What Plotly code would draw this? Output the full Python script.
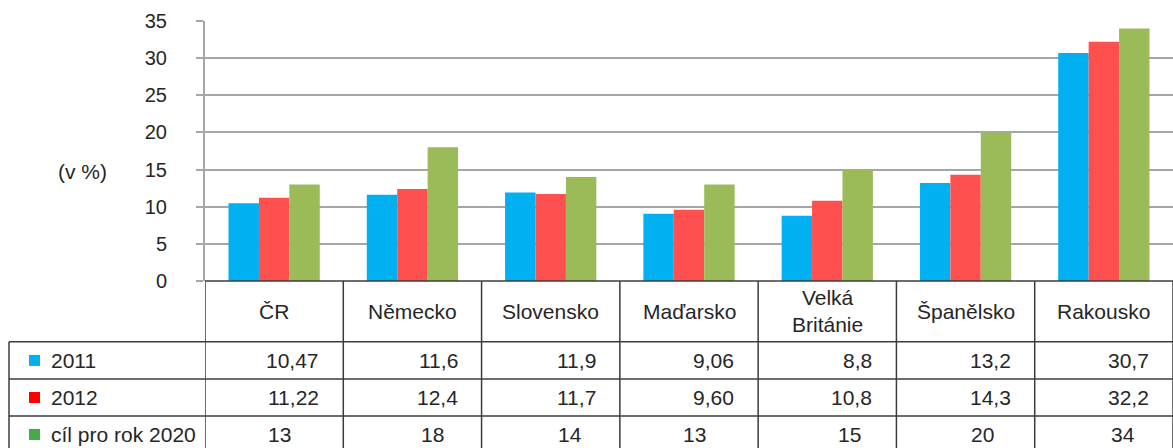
import plotly.graph_objects as go

# ---- data ----
countries = ["ČR", "Německo", "Slovensko", "Maďarsko", "Velká<br>Británie", "Španělsko", "Rakousko"]
series_names = ["2011", "2012", "cíl pro rok 2020"]
v2011 = [10.47, 11.6, 11.9, 9.06, 8.8, 13.2, 30.7]
v2012 = [11.22, 12.4, 11.7, 9.60, 10.8, 14.3, 32.2]
target2020 = [13, 18, 14, 13, 15, 20, 34]
lbl2011 = ["10,47", "11,6", "11,9", "9,06", "8,8", "13,2", "30,7"]
lbl2012 = ["11,22", "12,4", "11,7", "9,60", "10,8", "14,3", "32,2"]
lbl2020 = ["13", "18", "14", "13", "15", "20", "34"]
y_ticks = [0, 5, 10, 15, 20, 25, 30, 35]
y_title = "(v %)"

# ---- styling ----
W, H = 1173, 448
L, T, PB = 205, 21, 281          # plot left, top, bottom in px
PW, PH = W - L, PB - T
bar_colors = ["#00b0f0", "#ff5050", "#9bbb59"]
legend_colors = ["#00b0f0", "#ff0000", "#44aa4a"]
FONT = "Liberation Sans, Arial, sans-serif"
TXT = "#262626"
GRID = "#a6a6a6"
TLINE = "#3c3c3c"
FS = 21

def px(xp):
    return (xp - L) / PW

def py(yp):
    return (PB - yp) / PH

idx = list(range(len(countries)))
fig = go.Figure()
for name, vals, col in zip(series_names, [v2011, v2012, target2020], bar_colors):
    fig.add_trace(go.Bar(x=idx, y=vals, name=name, marker=dict(color=col, line=dict(width=0)),
                         showlegend=False))

# table geometry (px)
header_bottom = 341.7
row_lines = [341.7, 379, 416]
row_centers = [360.4, 397.5, 434.5]
table_left = 9
last_row_shift = [5, 20, 19, 5, 22, 17, 19]

shapes = []
shapes.append(dict(type="line", xref="paper", yref="paper", x0=0, x1=1, y0=py(PB), y1=py(PB),
                   line=dict(color=TLINE, width=1.5)))
for yl in row_lines:
    shapes.append(dict(type="line", xref="paper", yref="paper", x0=px(table_left), x1=1,
                       y0=py(yl), y1=py(yl), line=dict(color=TLINE, width=1.5)))
for i in range(len(countries) + 1):
    shapes.append(dict(type="line", xref="x", yref="paper", x0=i - 0.5, x1=i - 0.5,
                       y0=py(PB), y1=py(H + 10), line=dict(color=TLINE, width=1.5)))
shapes.append(dict(type="line", xref="paper", yref="paper", x0=px(table_left), x1=px(table_left),
                   y0=py(header_bottom), y1=py(H + 10), line=dict(color=TLINE, width=1.5)))
for c, yc in zip(legend_colors, row_centers):
    shapes.append(dict(type="rect", xref="paper", yref="paper", x0=px(29), x1=px(40),
                       y0=py(yc + 5.5), y1=py(yc - 5.5), fillcolor=c, line=dict(width=0)))

ann = []
for i, c in enumerate(countries):
    ann.append(dict(x=i, y=py((PB + header_bottom) / 2), xref="x", yref="paper", text=c,
                    showarrow=False, xanchor="center", yanchor="middle",
                    font=dict(size=FS, color=TXT, family=FONT)))
for name, yc in zip(series_names, row_centers):
    ann.append(dict(x=px(49), y=py(yc), xref="paper", yref="paper", text=name, showarrow=False,
                    xanchor="left", yanchor="middle", font=dict(size=FS, color=TXT, family=FONT)))
for labels, yc in zip([lbl2011, lbl2012], row_centers[:2]):
    for i, t in enumerate(labels):
        ann.append(dict(x=i + 0.5, y=py(yc), xref="x", yref="paper", text=t, showarrow=False,
                        xanchor="right", yanchor="middle", xshift=-22,
                        font=dict(size=FS, color=TXT, family=FONT)))
for i, t in enumerate(lbl2020):
    ann.append(dict(x=i, y=py(row_centers[2]), xref="x", yref="paper", text=t, showarrow=False,
                    xanchor="center", yanchor="middle", xshift=last_row_shift[i],
                    font=dict(size=FS, color=TXT, family=FONT)))
ann.append(dict(x=px(82), y=py(171), xref="paper", yref="paper", text=y_title, showarrow=False,
                xanchor="center", yanchor="middle", font=dict(size=FS, color=TXT, family=FONT)))

fig.update_layout(
    width=W, height=H,
    margin=dict(l=L, r=0, t=T, b=H - PB, pad=0),
    plot_bgcolor="white", paper_bgcolor="white",
    barmode="group", bargap=0.34, bargroupgap=0,
    shapes=shapes, annotations=ann,
    xaxis=dict(range=[-0.5, len(countries) - 0.5], showticklabels=False, showgrid=False,
               zeroline=False, showline=False, ticks=""),
    yaxis=dict(range=[0, 35], tickvals=y_ticks, showgrid=True, gridcolor=GRID, gridwidth=2,
               zeroline=False, showline=True, linecolor=GRID, linewidth=2,
               ticks="outside", ticklen=7, tickcolor=GRID, tickwidth=2,
               ticklabelstandoff=25,
               tickfont=dict(size=20, color=TXT, family=FONT)),
)

fig.write_html("out.html", config={"displayModeBar": False},
               post_script="document.body.style.margin='0';document.body.style.overflow='hidden';")
